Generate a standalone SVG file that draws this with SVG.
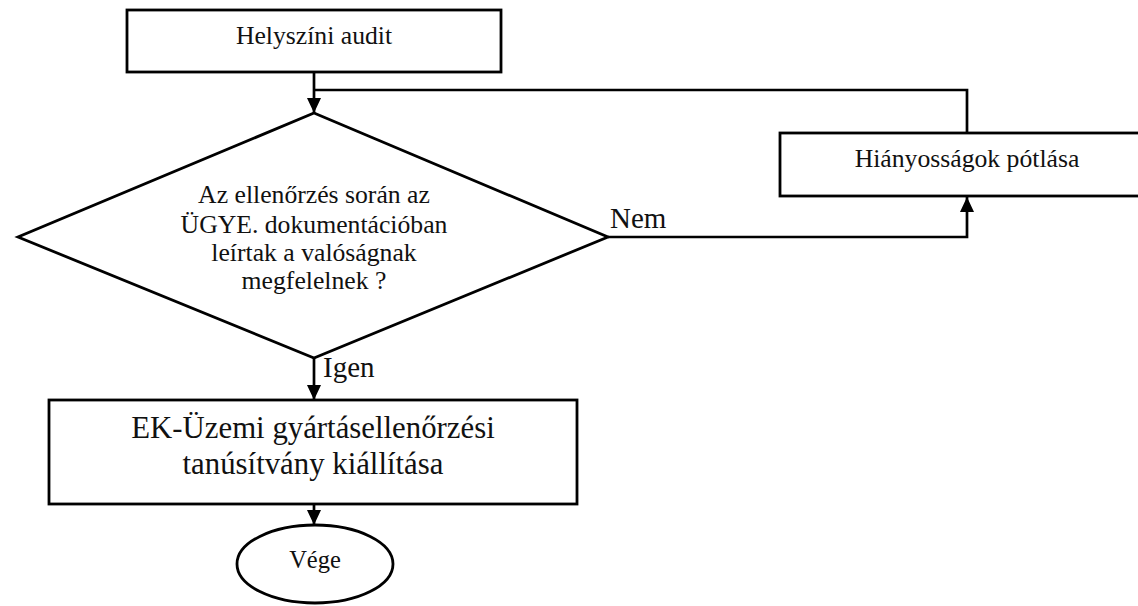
<svg xmlns="http://www.w3.org/2000/svg" width="1138" height="606" viewBox="0 0 1138 606">
<style>
.box{fill:#fff;stroke:#000;stroke-width:2.8}
.con{fill:none;stroke:#000;stroke-width:2.7}
.t{font-family:'Liberation Serif','DejaVu Serif','Noto Serif',serif;fill:#111;text-anchor:middle}
.s{font-size:25.7px}
.l{font-size:29px;text-anchor:start}
.b{font-size:30.8px}
</style>
<defs>
<marker id="arr" markerUnits="userSpaceOnUse" markerWidth="15" markerHeight="14" refX="15" refY="7" orient="auto">
<path d="M0,0 L15,7 L0,14 z" fill="#000"/>
</marker>
</defs>
<rect width="1138" height="606" fill="#fff"/>
<g id="connectors">
<line class="con" x1="314" y1="72" x2="314" y2="113" marker-end="url(#arr)"/>
<polyline class="con" points="967,133 967,90 314,90"/>
<polyline class="con" points="608,237 967,237 967,197" marker-end="url(#arr)"/>
<line class="con" x1="314" y1="358" x2="314" y2="400" marker-end="url(#arr)"/>
<line class="con" x1="314" y1="504" x2="314" y2="525" marker-end="url(#arr)"/>
<text class="t l" font-family="Liberation Serif, serif" x="610" y="228">Nem</text>
<text class="t l" font-family="Liberation Serif, serif" x="323" y="377">Igen</text>
</g>
<g id="audit">
<rect class="box" x="127" y="10" width="374" height="62"/>
<text class="t s" font-family="Liberation Serif, serif" x="314" y="44">Helyszíni audit</text>
</g>
<g id="decision">
<polygon class="box" points="314,113 608,237 314,358 18,237"/>
<text class="t s" font-family="Liberation Serif, serif" x="314" y="203">Az ellenőrzés során az</text>
<text class="t s" font-family="Liberation Serif, serif" x="314" y="232.5">ÜGYE. dokumentációban</text>
<text class="t s" font-family="Liberation Serif, serif" x="314" y="261">leírtak a valóságnak</text>
<text class="t s" font-family="Liberation Serif, serif" x="314" y="289">megfelelnek ?</text>
</g>
<g id="potlas">
<rect class="box" x="780" y="133" width="374" height="63"/>
<text class="t s" font-family="Liberation Serif, serif" x="967" y="167">Hiányosságok pótlása</text>
</g>
<g id="tanusitvany">
<rect class="box" x="49" y="400" width="528" height="104"/>
<text class="t b" font-family="Liberation Serif, serif" x="313" y="438">EK-Üzemi gyártásellenőrzési</text>
<text class="t b" font-family="Liberation Serif, serif" x="313" y="474">tanúsítvány kiállítása</text>
</g>
<g id="vege">
<ellipse class="box" cx="315" cy="564" rx="78" ry="39"/>
<text class="t" font-family="Liberation Serif, serif" style="font-size:24.5px" x="315" y="568">Vége</text>
</g>
</svg>
